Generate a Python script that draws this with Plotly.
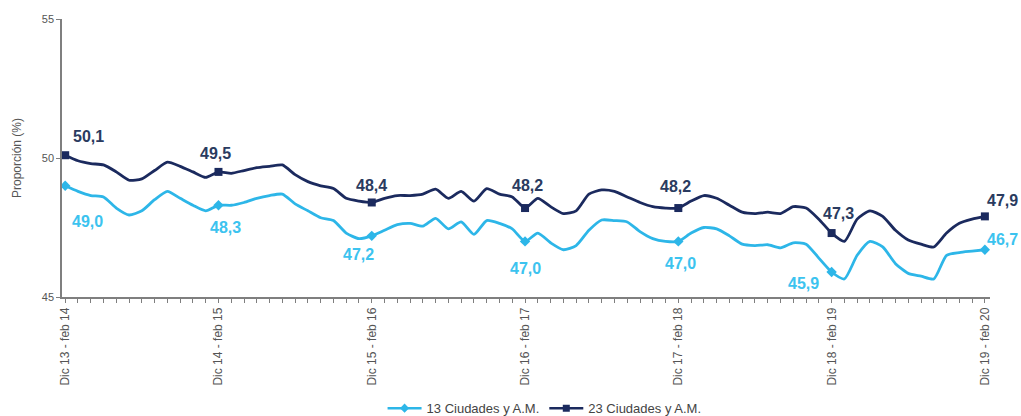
import plotly.graph_objects as go

years = [13, 14, 15, 16, 17, 18, 19]
categories = [f"Dic {y} - feb {y+1}" for y in years]

# monthly rolling-quarter values, Dic13-feb14 ... Dic19-feb20 (73 points)
serie_23 = [50.1, 49.9, 49.8, 49.75, 49.5, 49.2, 49.25, 49.55, 49.85, 49.7, 49.5, 49.3,
            49.5, 49.45, 49.55, 49.65, 49.7, 49.75, 49.4, 49.15, 49.0, 48.9, 48.55, 48.45,
            48.4, 48.55, 48.65, 48.65, 48.7, 48.88, 48.55, 48.8, 48.45, 48.9, 48.7, 48.6,
            48.2, 48.55, 48.25, 48.0, 48.1, 48.7, 48.85, 48.8, 48.6, 48.4, 48.25, 48.2,
            48.2, 48.45, 48.65, 48.55, 48.3, 48.05, 48.0, 48.05, 48.0, 48.25, 48.2, 47.8,
            47.3, 47.0, 47.8, 48.1, 47.9, 47.4, 47.05, 46.9, 46.8, 47.3, 47.65, 47.8,
            47.9]
serie_13 = [49.0, 48.8, 48.65, 48.6, 48.2, 47.95, 48.1, 48.5, 48.8, 48.55, 48.3, 48.1,
            48.3, 48.3, 48.4, 48.55, 48.65, 48.7, 48.35, 48.1, 47.85, 47.75, 47.3, 47.1,
            47.2, 47.4, 47.6, 47.65, 47.55, 47.83, 47.45, 47.7, 47.25, 47.75, 47.65, 47.45,
            47.0, 47.3, 46.95, 46.7, 46.85, 47.4, 47.77, 47.75, 47.7, 47.35, 47.1, 47.0,
            47.0, 47.3, 47.5, 47.45, 47.2, 46.9, 46.85, 46.88, 46.77, 46.95, 46.9, 46.4,
            45.9, 45.65, 46.5, 47.0, 46.8, 46.2, 45.85, 45.75, 45.65, 46.5, 46.6, 46.65,
            46.7]
labels_23 = ["50,1", "49,5", "48,4", "48,2", "48,2", "47,3", "47,9"]
labels_13 = ["49,0", "48,3", "47,2", "47,0", "47,0", "45,9", "46,7"]

name_13 = "13 Ciudades y A.M."
name_23 = "23 Ciudades y A.M."
dark = "#1b2a5e"
dark_txt = "#2a3b60"
light = "#2db6e8"
light_txt = "#3cc3ef"

x = list(range(len(serie_23)))
key_idx = list(range(0, len(serie_23), 12))

fig = go.Figure()
for vals, col, sym in [(serie_13, light, "diamond"), (serie_23, dark, "square")]:
    fig.add_trace(go.Scatter(x=x, y=vals, mode="lines", showlegend=False, hoverinfo="skip",
                             line=dict(color=col, width=2.8, shape="spline", smoothing=0.6)))
    fig.add_trace(go.Scatter(x=key_idx, y=[vals[i] for i in key_idx], mode="markers",
                             showlegend=False,
                             marker=dict(color=col, symbol=sym, size=8)))
# legend entries
fig.add_trace(go.Scatter(x=[None], y=[None], mode="lines+markers", name=name_13,
                         line=dict(color=light, width=2.5),
                         marker=dict(color=light, symbol="diamond", size=7)))
fig.add_trace(go.Scatter(x=[None], y=[None], mode="lines+markers", name=name_23,
                         line=dict(color=dark, width=2.5),
                         marker=dict(color=dark, symbol="square", size=7)))

shift_23 = [(23, 19), (-3, 18), (0, 17), (2, 23), (-3, 22), (7, 20), (18, 16)]
shift_13 = [(22, -36), (7, -22), (-13, -19), (0, -27), (2, -22), (-28, -12), (18, 10)]
for k, i in enumerate(key_idx):
    fig.add_annotation(x=i, y=serie_23[i], text="<b>" + labels_23[k] + "</b>", showarrow=False,
                       xshift=shift_23[k][0], yshift=shift_23[k][1],
                       font=dict(family="Liberation Sans, Arial", size=16, color=dark_txt))
    fig.add_annotation(x=i, y=serie_13[i], text="<b>" + labels_13[k] + "</b>", showarrow=False,
                       xshift=shift_13[k][0], yshift=shift_13[k][1],
                       font=dict(family="Liberation Sans, Arial", size=16, color=light_txt))

fig.update_layout(
    width=1021, height=416,
    margin=dict(l=62, r=31, t=19, b=119, autoexpand=False),
    plot_bgcolor="white", paper_bgcolor="white",
    font=dict(family="Liberation Sans, Arial", size=11, color="#555555"),
    legend=dict(orientation="h", x=0.52, xanchor="center", y=-0.40, yanchor="middle",
                font=dict(size=13, color="#444444"), itemwidth=34),
    xaxis=dict(range=[-0.25, 72.4], tickmode="array", tickvals=key_idx, ticktext=categories,
               tickangle=-90, showgrid=False, zeroline=False, automargin=False,
               showline=True, linecolor="#7f7f7f", linewidth=1.5,
               ticks="outside", ticklen=4, tickcolor="#7f7f7f",
               minor=dict(ticks="outside", dtick=1, tick0=0, ticklen=4, tickcolor="#7f7f7f"),
               tickfont=dict(size=12, color="#555555")),
    yaxis=dict(range=[45, 55], tickvals=[45, 50, 55], showgrid=False, zeroline=False,
               automargin=False,
               showline=True, linecolor="#7f7f7f", linewidth=1.5,
               ticks="outside", ticklen=4, tickcolor="#7f7f7f",
               tickfont=dict(size=11, color="#555555"),
               title=dict(text="Proporción (%)", font=dict(size=12, color="#555555"), standoff=18)),
)

fig.write_html("out.html", config={"displayModeBar": False})
with open("out.html", encoding="utf-8") as f:
    html = f.read()
html = html.replace("<body>", '<body style="margin:0;overflow:hidden">', 1)
with open("out.html", "w", encoding="utf-8") as f:
    f.write(html)
